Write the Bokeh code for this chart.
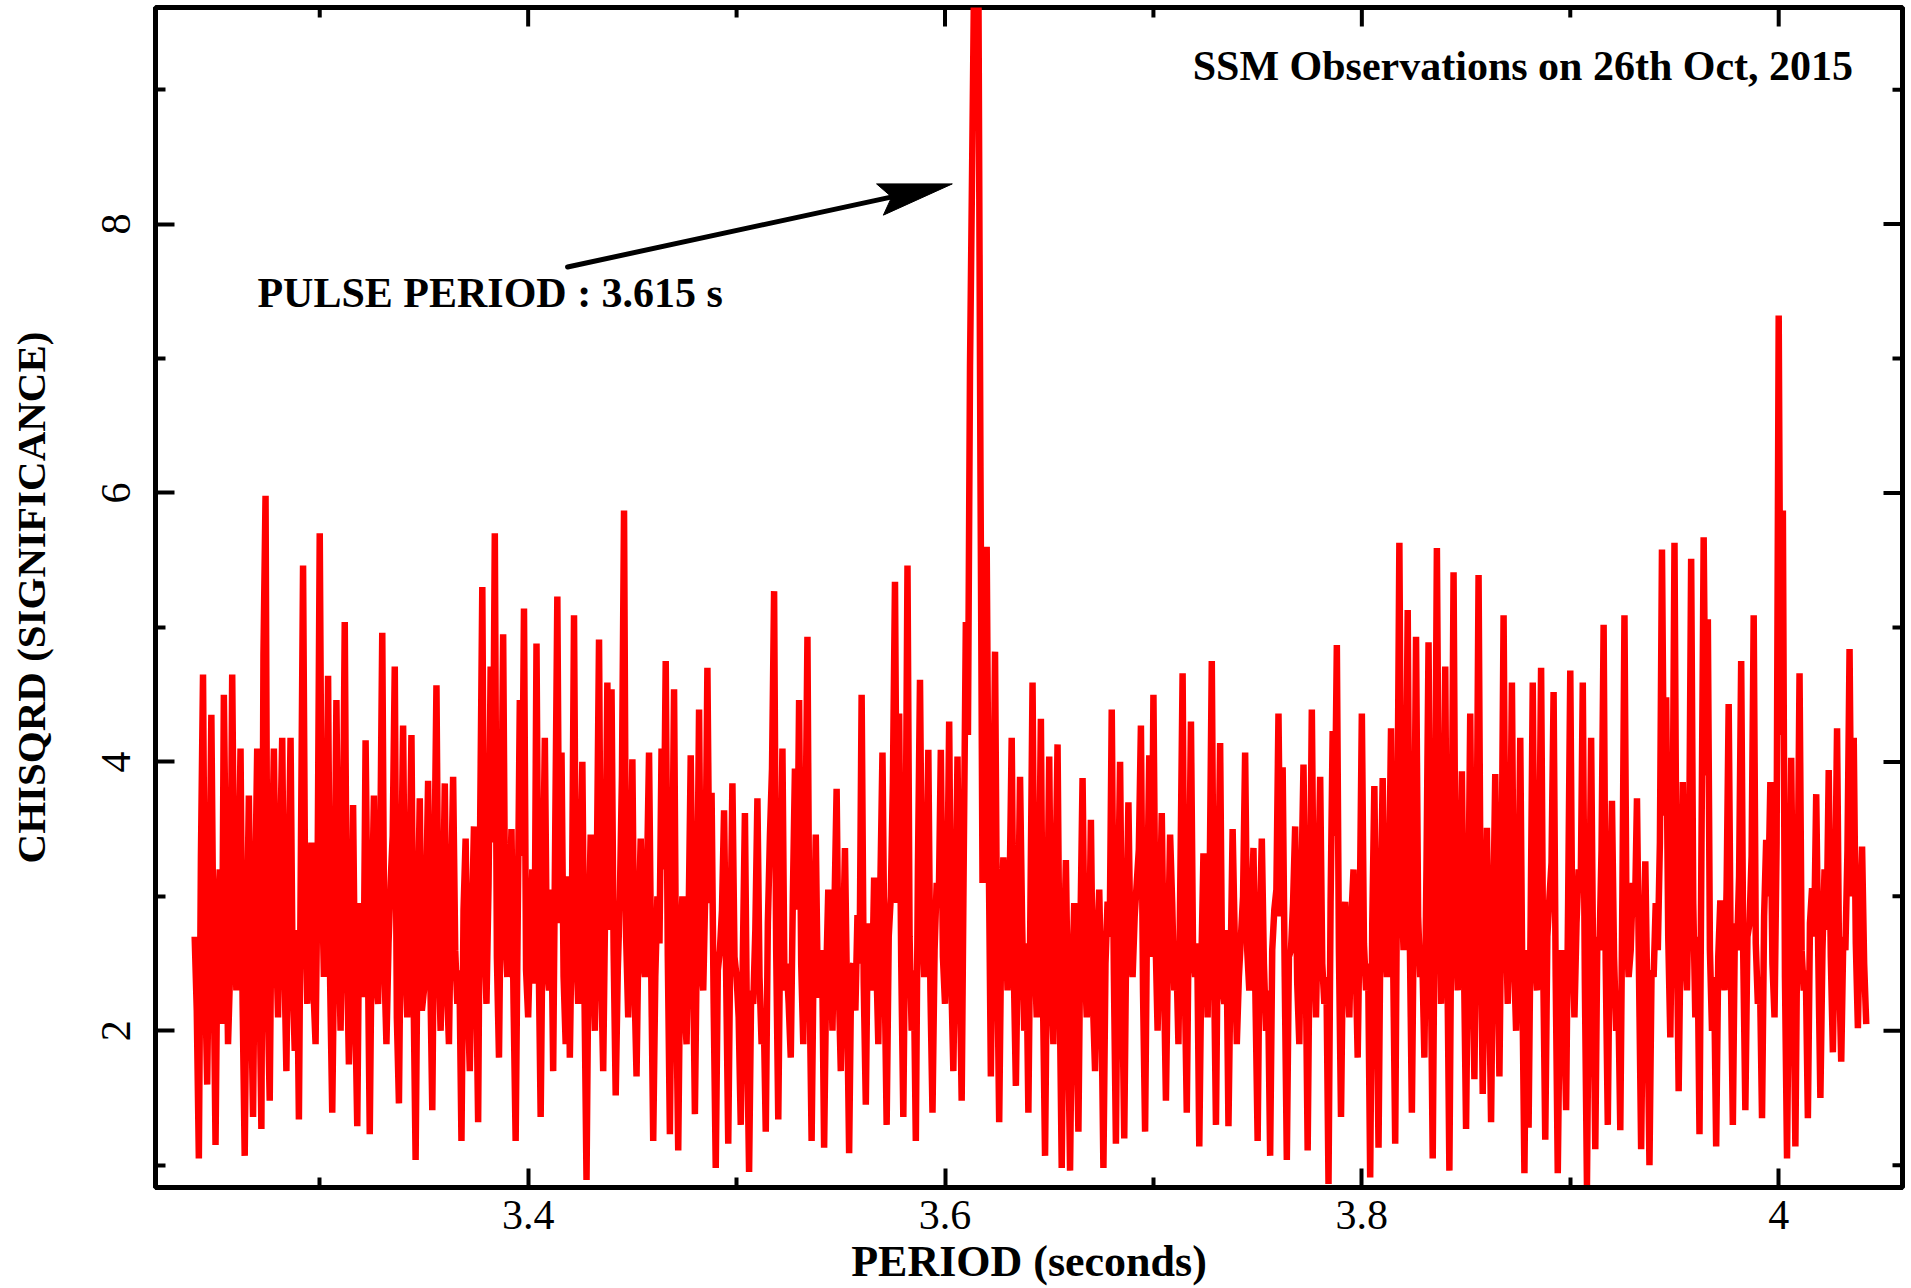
import math
from bokeh.plotting import figure
from bokeh.models import Range1d, FixedTicker, CustomJSTickFormatter, Label
from bokeh.embed import file_html
from bokeh.resources import INLINE

# ---------------- data ----------------
PERIOD_START = 3.240   # seconds, first trial period
PERIOD_STEP = 0.001    # seconds between trial periods

chisqrd = [
    2.70, 2.15, 1.05, 3.30, 4.65, 2.40, 1.60, 2.90, 4.35, 2.60, 1.15, 2.80, 3.20, 2.05, 4.50, 3.10, 1.90, 2.45, 4.65, 2.95,
    2.30, 3.05, 4.10, 2.20, 1.07, 2.65, 3.75, 2.35, 1.36, 3.00, 4.10, 2.50, 1.27, 4.80, 5.98, 2.25, 1.48, 3.20, 4.10, 2.70,
    2.10, 3.35, 4.18, 2.55, 1.70, 3.10, 4.18, 2.40, 1.85, 2.75, 1.34, 3.40, 5.46, 3.00, 2.20, 2.85, 3.40, 2.30, 1.90, 3.25,
    5.70, 3.20, 2.40, 2.90, 4.64, 2.35, 1.39, 2.70, 4.46, 2.80, 2.00, 3.15, 5.04, 2.60, 1.75, 2.50, 3.68, 2.20, 1.29, 2.95,
    2.60, 2.25, 4.16, 2.70, 1.23, 2.85, 3.75, 2.40, 2.20, 3.30, 4.96, 2.50, 1.90, 2.65, 3.10, 3.45, 4.71, 2.10, 1.46, 3.05,
    4.27, 2.55, 2.10, 3.05, 4.20, 2.30, 1.04, 2.80, 3.73, 2.15, 2.30, 2.95, 3.86, 2.45, 1.41, 3.20, 4.57, 2.60, 2.00, 2.75,
    3.84, 2.35, 1.90, 3.00, 3.89, 2.60, 2.20, 2.45, 1.18, 2.90, 3.43, 2.25, 1.70, 2.80, 3.52, 2.50, 1.32, 3.60, 5.30, 2.70,
    2.20, 3.10, 4.71, 3.40, 5.70, 2.55, 1.80, 3.25, 4.95, 2.75, 2.40, 2.90, 3.50, 2.20, 1.18, 2.85, 4.46, 3.30, 5.14, 2.45,
    2.10, 2.70, 3.20, 2.35, 4.88, 2.60, 1.36, 2.95, 4.18, 2.50, 2.30, 3.05, 1.70, 3.50, 5.23, 2.80, 4.07, 2.40, 1.90, 3.15,
    1.80, 2.90, 5.09, 2.65, 2.20, 3.10, 4.00, 2.30, 0.89, 2.70, 3.46, 2.55, 2.00, 3.30, 4.91, 2.45, 1.70, 3.00, 4.59, 2.75,
    4.54, 2.60, 1.52, 2.45, 3.00, 3.90, 5.87, 2.70, 2.10, 2.95, 4.02, 2.35, 1.66, 2.80, 3.43, 2.55, 2.40, 3.15, 4.07, 2.50,
    1.18, 2.40, 3.00, 2.65, 4.10, 3.20, 4.75, 2.55, 1.23, 2.90, 4.54, 2.30, 1.11, 2.60, 3.00, 2.20, 1.90, 2.85, 4.05, 2.70,
    1.38, 2.75, 4.39, 2.50, 2.30, 3.05, 4.70, 2.95, 3.77, 2.20, 0.98, 2.45, 2.60, 2.90, 3.64, 2.40, 1.16, 2.65, 3.84, 2.55,
    2.40, 2.10, 1.30, 2.55, 3.62, 2.00, 0.95, 2.30, 2.20, 2.75, 3.73, 2.40, 1.90, 2.15, 1.25, 2.80, 3.45, 3.95, 5.27, 2.60,
    1.34, 2.85, 4.10, 2.30, 2.50, 2.20, 1.80, 3.00, 3.95, 2.90, 4.46, 2.50, 1.90, 3.35, 4.93, 2.35, 1.18, 2.60, 3.46, 2.25,
    2.30, 2.60, 1.13, 2.40, 3.05, 2.70, 2.00, 2.95, 3.80, 2.35, 1.70, 2.55, 3.36, 2.25, 1.09, 2.45, 2.50, 2.15, 2.86, 2.50,
    4.50, 2.35, 1.45, 2.80, 2.60, 2.30, 3.14, 2.55, 1.90, 3.10, 4.07, 2.45, 1.30, 2.70, 3.00, 3.85, 5.34, 2.95, 4.36, 2.50,
    1.36, 3.05, 5.46, 2.70, 2.00, 2.45, 1.18, 3.20, 4.61, 2.85, 2.40, 3.00, 4.09, 2.30, 1.39, 2.60, 3.10, 2.95, 4.09, 2.55,
    2.20, 2.90, 4.30, 2.40, 1.70, 2.85, 4.04, 2.50, 1.48, 3.30, 5.04, 4.20, 6.95, 8.40, 9.90, 9.90, 9.90, 6.20, 3.10, 4.40,
    5.60, 3.30, 1.66, 3.10, 4.82, 2.60, 1.32, 2.75, 3.29, 2.90, 2.30, 3.05, 4.18, 2.45, 1.59, 2.70, 3.89, 2.80, 2.00, 2.65,
    1.39, 2.95, 4.59, 2.60, 2.10, 2.85, 4.32, 2.25, 1.07, 2.70, 4.04, 2.40, 1.90, 3.10, 4.13, 2.30, 0.98, 2.55, 3.27, 2.15,
    0.96, 2.35, 2.95, 2.10, 1.25, 2.80, 3.88, 2.55, 2.10, 2.40, 3.57, 2.20, 1.70, 2.65, 3.05, 2.25, 0.98, 2.50, 2.96, 2.70,
    4.39, 2.45, 1.16, 2.90, 4.00, 2.35, 1.20, 2.75, 3.70, 2.60, 2.40, 2.85, 3.10, 3.35, 4.27, 2.30, 1.25, 2.95, 4.05, 2.55,
    4.50, 2.70, 2.00, 2.80, 3.62, 2.45, 1.48, 2.60, 3.46, 2.95, 2.30, 2.55, 1.90, 3.25, 4.66, 2.40, 1.39, 2.90, 4.30, 2.60,
    2.40, 2.65, 1.14, 2.50, 3.32, 2.85, 2.10, 3.15, 4.75, 2.55, 1.30, 2.90, 4.14, 2.35, 2.20, 2.75, 1.29, 2.45, 3.50, 2.70,
    1.90, 2.40, 2.70, 3.00, 4.07, 2.60, 2.30, 2.85, 3.36, 2.20, 1.18, 2.75, 3.43, 2.50, 2.00, 2.30, 1.07, 2.60, 2.90, 3.05,
    4.36, 2.85, 3.96, 2.40, 1.04, 2.55, 2.60, 2.95, 3.52, 2.35, 1.90, 3.10, 3.98, 2.60, 1.11, 2.80, 4.39, 2.65, 2.10, 3.00,
    3.89, 2.50, 2.20, 2.40, 0.86, 2.95, 4.23, 3.45, 4.87, 2.60, 1.36, 2.70, 2.96, 2.45, 2.10, 2.85, 3.20, 2.55, 1.80, 2.90,
    4.36, 2.65, 2.30, 2.50, 0.91, 2.80, 3.82, 2.45, 1.13, 2.90, 3.88, 2.70, 2.40, 3.05, 4.25, 2.55, 1.16, 3.40, 5.63, 3.10,
    2.60, 3.35, 5.13, 2.70, 1.39, 3.00, 4.93, 2.85, 2.40, 2.55, 1.80, 3.20, 4.89, 2.60, 1.05, 3.10, 5.59, 3.30, 2.20, 2.90,
    4.71, 2.55, 0.96, 3.05, 5.41, 2.80, 2.30, 2.95, 3.93, 2.50, 1.27, 2.75, 4.36, 2.65, 1.64, 3.15, 5.39, 2.85, 1.53, 2.60,
    3.51, 2.45, 1.32, 2.80, 3.91, 2.70, 1.66, 3.10, 5.09, 2.90, 2.20, 3.00, 4.59, 2.55, 2.00, 2.75, 4.18, 2.35, 0.94, 2.60,
    1.28, 2.85, 4.59, 2.60, 2.30, 3.05, 4.70, 2.50, 1.19, 2.70, 2.99, 3.25, 4.52, 2.40, 0.94, 2.30, 2.60, 2.15, 1.41, 3.00,
    4.68, 2.65, 2.10, 2.80, 3.20, 3.05, 4.59, 2.35, 0.85, 2.60, 4.18, 2.45, 1.12, 2.70, 2.60, 3.35, 5.02, 2.50, 1.30, 2.85,
    3.71, 2.55, 2.00, 2.30, 1.26, 3.00, 5.09, 2.75, 2.40, 2.60, 3.10, 2.85, 3.73, 2.40, 1.12, 2.50, 3.26, 2.20, 1.00, 2.45,
    2.40, 2.95, 2.60, 3.40, 5.58, 3.60, 4.48, 2.70, 1.95, 3.20, 5.63, 2.90, 1.55, 2.80, 3.85, 2.65, 2.30, 3.30, 5.51, 2.95,
    2.10, 2.70, 1.23, 3.50, 5.67, 3.90, 5.06, 2.60, 2.00, 2.40, 1.14, 2.55, 2.97, 2.75, 2.30, 3.05, 4.43, 2.50, 1.30, 2.80,
    2.60, 3.15, 4.75, 2.55, 1.41, 2.70, 2.80, 3.30, 5.09, 2.65, 2.20, 2.40, 1.35, 2.85, 3.42, 3.00, 3.85, 2.50, 2.10, 3.40,
    7.32, 4.20, 5.87, 2.40, 1.05, 2.65, 4.03, 2.50, 1.14, 2.90, 4.66, 2.60, 2.30, 2.45, 1.35, 2.80, 3.06, 2.70, 3.76, 2.55,
    1.50, 2.60, 3.20, 2.75, 3.94, 2.55, 1.84, 2.90, 4.25, 2.45, 1.77, 2.70, 2.60, 3.35, 4.84, 3.00, 4.18, 2.65, 2.02, 2.85,
    3.37, 2.50, 2.05,
]
periods = [round(PERIOD_START + PERIOD_STEP * i, 4) for i in range(len(chisqrd))]

x_major_ticks = [3.4, 3.6, 3.8, 4.0]
x_minor_ticks = [3.3, 3.5, 3.7, 3.9]
y_major_ticks = [2, 4, 6, 8]
y_minor_ticks = [1, 3, 5, 7, 9]

x_label = "PERIOD (seconds)"
y_label = "CHISQRD (SIGNIFICANCE)"
title_text = "SSM Observations on 26th Oct, 2015"
pulse_text = "PULSE PERIOD : 3.615 s"

# ---------------- layout ----------------
W, H = 1911, 1288
BL, BR, BT, BB = 155, 9, 7, 100
X0, X1 = 3.2212, 4.0594
Y0, Y1 = 0.8345, 9.611
sx = (W - BL - BR) / (X1 - X0)   # pixels per second
sy = (H - BT - BB) / (Y1 - Y0)   # pixels per chi-square unit

FONT = "Liberation Serif"
MAJ_LEN, MIN_LEN = 19, 10

p = figure(width=W, height=H, x_range=Range1d(X0, X1), y_range=Range1d(Y0, Y1),
           output_backend="svg", toolbar_location=None,
           min_border_left=BL, min_border_right=BR, min_border_top=BT, min_border_bottom=BB,
           x_axis_label=x_label, y_axis_label=y_label)
p.grid.visible = False
p.background_fill_color = "white"
p.border_fill_color = "white"
p.outline_line_color = "black"
p.outline_line_width = 5
p.outline_line_alpha = 1.0

fmt = CustomJSTickFormatter(code="""
const s = tick.toFixed(1);
return s.endsWith('.0') ? s.slice(0, -2) : s;
""")

def style_axis(ax):
    ax.axis_line_width = 5
    ax.axis_line_color = "black"
    ax.major_tick_line_width = 4
    ax.minor_tick_line_width = 4
    ax.major_tick_line_color = "black"
    ax.minor_tick_line_color = "black"
    ax.major_tick_in = MAJ_LEN
    ax.major_tick_out = 0
    ax.minor_tick_in = MIN_LEN
    ax.minor_tick_out = 0
    ax.formatter = fmt
    ax.major_label_text_font = FONT
    ax.major_label_text_font_size = "42px"
    ax.major_label_text_color = "black"
    ax.axis_label_text_font = FONT
    ax.axis_label_text_font_style = "bold"
    ax.axis_label_text_color = "black"

p.xaxis[0].ticker = FixedTicker(ticks=x_major_ticks, minor_ticks=x_minor_ticks)
p.yaxis[0].ticker = FixedTicker(ticks=y_major_ticks, minor_ticks=y_minor_ticks)
style_axis(p.xaxis[0])
style_axis(p.yaxis[0])
p.xaxis[0].major_label_standoff = 13
p.xaxis[0].axis_label_standoff = 5
p.xaxis[0].axis_label_text_font_size = "44px"
p.yaxis[0].axis_label_text_font_size = "41px"
p.yaxis[0].major_label_standoff = 25
p.yaxis[0].axis_label_standoff = 46
p.yaxis[0].major_label_orientation = "vertical"

# inward ticks on the top and right edges of the frame
def tick_segments(vals, length, top_edge):
    if top_edge:
        return dict(x0=vals, y0=[Y1] * len(vals), x1=vals, y1=[Y1 - length / sy] * len(vals))
    return dict(x0=[X1] * len(vals), y0=vals, x1=[X1 - length / sx] * len(vals), y1=vals)

for vals, length in ((x_major_ticks, MAJ_LEN), (x_minor_ticks, MIN_LEN)):
    p.segment(**tick_segments(vals, length, True), line_color="black", line_width=4)
for vals, length in ((y_major_ticks, MAJ_LEN), (y_minor_ticks, MIN_LEN)):
    p.segment(**tick_segments(vals, length, False), line_color="black", line_width=4)

# ---------------- periodogram ----------------
p.line(periods, chisqrd, line_color="#ff0000", line_width=6.5, line_join="bevel")

# ---------------- annotations ----------------
p.add_layout(Label(x=3.2701, y=7.49, text=pulse_text, text_font=FONT,
                   text_font_style="bold", text_font_size="42px", text_color="black",
                   text_align="left", text_baseline="alphabetic"))
p.add_layout(Label(x=4.0357, y=9.175, text=title_text, text_font=FONT,
                   text_font_style="bold", text_font_size="42px", text_color="black",
                   text_align="right", text_baseline="alphabetic"))

# arrow pointing at the pulse period peak (head built in screen space)
tail = (3.4189, 7.681)
tip = (3.6035, 8.299)
dxp = (tip[0] - tail[0]) * sx
dyp = (tip[1] - tail[1]) * sy
L = math.hypot(dxp, dyp)
ux, uy = dxp / L, dyp / L
nx, ny = -uy, ux
HEAD_LEN, HEAD_HALF, NOTCH = 74, 16, 62

def back(a, b):
    return (tip[0] + (a * ux + b * nx) / sx, tip[1] + (a * uy + b * ny) / sy)

b1 = back(-HEAD_LEN, HEAD_HALF)
nt = back(-NOTCH, 0)
b2 = back(-HEAD_LEN, -HEAD_HALF)
shaft_end = back(-NOTCH + 4, 0)
p.line([tail[0], shaft_end[0]], [tail[1], shaft_end[1]],
       line_color="black", line_width=5, line_cap="round")
p.patch([tip[0], b1[0], nt[0], b2[0]], [tip[1], b1[1], nt[1], b2[1]],
        fill_color="black", line_color="black", line_width=1)

open("out.html", "w").write(file_html(p, INLINE))
